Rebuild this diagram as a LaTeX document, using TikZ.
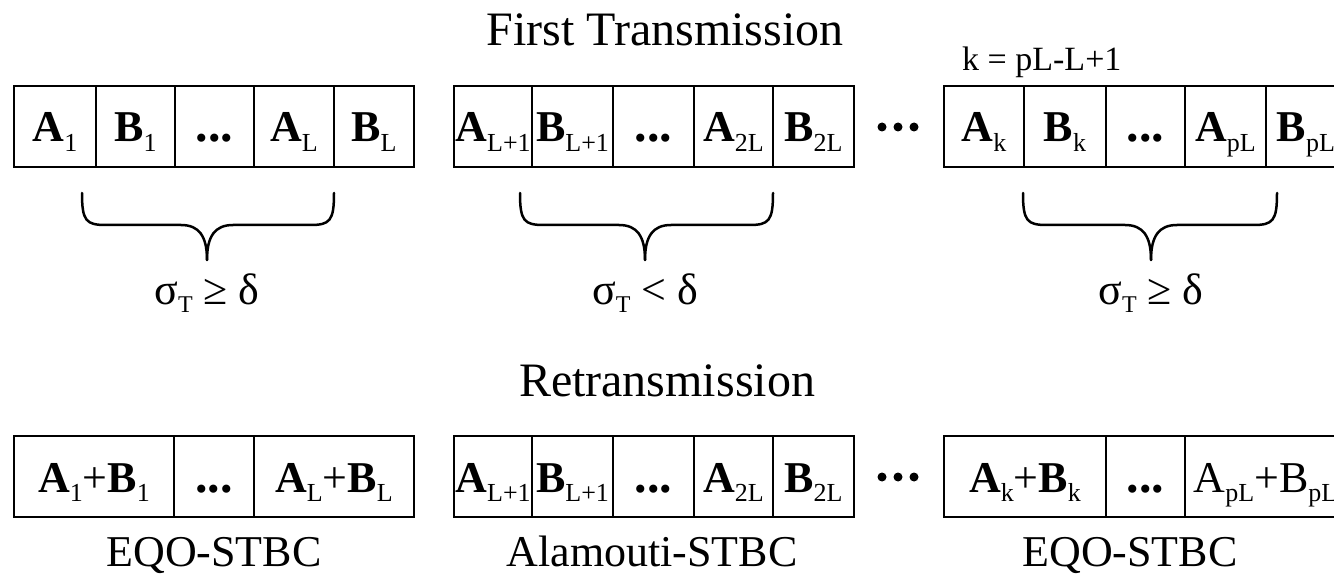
\documentclass[tikz,border=0pt]{standalone}
\usepackage{fontspec}
\setmainfont{Liberation Serif}
\newcommand\Sy[2]{\textbf{#1}\raisebox{-0.22em}{\fontsize{26}{26}\selectfont #2}}
\newcommand\Sr[2]{#1\raisebox{-0.22em}{\fontsize{26}{26}\selectfont #2}}
\newcommand\Sg{σ\raisebox{-0.18em}{\fontsize{24}{24}\selectfont T}}
\newcommand\Dd{{\fontsize{50}{50}\selectfont\textbf{...}}}
\newcommand\Cell[6]{\node[cellbox, minimum width={#3-#2}, minimum height={#5-#4}] (#1) at ({(#2+#3)/2},{(#4+#5)/2}) {#6};}
\newcommand\Brace[4]{%
  \draw[braceline] (#2,193) .. controls (#2,221) and (#2+4,225) .. (#2+24,225) -- (#3-26,225) .. controls (#3-8,225) and (#3,236) .. (#3,260);
  \draw[braceline] (#4,193) .. controls (#4,221) and (#4-4,225) .. (#4-24,225) -- (#3+26,225) .. controls (#3+8,225) and (#3,236) .. (#3,260);
  \coordinate (#1) at (#3,260);}
\begin{document}
\begin{tikzpicture}[x=1pt,y=-1pt,
  cellbox/.style={draw, line width=2.5pt, inner sep=0pt, text height=31pt, text depth=0pt,
    font=\fontsize{44}{44}\selectfont},
  braceline/.style={line width=2.5pt, line cap=round},
  txt/.style={inner sep=0pt, anchor=base, font=\fontsize{44}{44}\selectfont},
  title/.style={inner sep=0pt, anchor=base, font=\fontsize{48}{48}\selectfont},
  dot/.style={circle, fill, inner sep=0pt, minimum size=9pt}]
\useasboundingbox (0,0) rectangle (1334,580);
\fill[white] (0,0) rectangle (1334,580);

\node[title] (t1) at (665,46) {First Transmission};
\node[title] (t2) at (667,396) {Retransmission};
\node[inner sep=0pt, anchor=base west, font=\fontsize{34}{34}\selectfont] (klab) at (962,71) {k = pL-L+1};

% first transmission row
\Cell{a1}{14}{96}{86}{167}{\Sy{A}{1}}
\Cell{b1}{96}{175}{86}{167}{\Sy{B}{1}}
\Cell{d1}{175}{254}{86}{167}{\Dd}
\Cell{aL}{254}{334}{86}{167}{\Sy{A}{L}}
\Cell{bL}{334}{414}{86}{167}{\Sy{B}{L}}

\Cell{aL1}{454}{532}{86}{167}{\Sy{A}{L+1}}
\Cell{bL1}{532}{613}{86}{167}{\Sy{B}{L+1}}
\Cell{d2}{613}{694}{86}{167}{\Dd}
\Cell{a2L}{694}{773}{86}{167}{\Sy{A}{2L}}
\Cell{b2L}{773}{854}{86}{167}{\Sy{B}{2L}}

\Cell{ak}{944}{1024}{86}{167}{\Sy{A}{k}}
\Cell{bk}{1024}{1106}{86}{167}{\Sy{B}{k}}
\Cell{d3}{1106}{1185}{86}{167}{\Dd}
\Cell{apL}{1185}{1266}{86}{167}{\Sy{A}{pL}}
\Cell{bpL}{1266}{1346}{86}{167}{\Sy{B}{pL}}

\node[dot] (g1) at (882,127) {};
\node[dot] (g2) at (898,127) {};
\node[dot] (g3) at (914,127) {};

% braces and conditions
\Brace{br1}{82}{207}{334}
\Brace{br2}{520}{645}{773}
\Brace{br3}{1023}{1151}{1277}
\node[txt] (c1) at (207,305) {\Sg\ ≥ δ};
\node[txt] (c2) at (645,305) {\Sg\ < δ};
\node[txt] (c3) at (1151,305) {\Sg\ ≥ δ};

% retransmission row
\Cell{r1}{14}{174}{436}{517}{\Sy{A}{1}+\Sy{B}{1}}
\Cell{r2}{174}{254}{436}{517}{\Dd}
\Cell{r3}{254}{414}{436}{517}{\Sy{A}{L}+\Sy{B}{L}}

\Cell{s1}{454}{532}{436}{517}{\Sy{A}{L+1}}
\Cell{s2}{532}{613}{436}{517}{\Sy{B}{L+1}}
\Cell{s3}{613}{694}{436}{517}{\Dd}
\Cell{s4}{694}{773}{436}{517}{\Sy{A}{2L}}
\Cell{s5}{773}{854}{436}{517}{\Sy{B}{2L}}

\Cell{u1}{944}{1106}{436}{517}{\Sy{A}{k}+\Sy{B}{k}}
\Cell{u2}{1106}{1185}{436}{517}{\Dd}
\Cell{u3}{1185}{1346}{436}{517}{\Sr{A}{pL}+\Sr{B}{pL}}

\node[dot] (h1) at (882,477) {};
\node[dot] (h2) at (898,477) {};
\node[dot] (h3) at (914,477) {};

\node[txt] (e1) at (214,566) {EQO-STBC};
\node[txt] (e2) at (652,566) {Alamouti-STBC};
\node[txt] (e3) at (1130,566) {EQO-STBC};
\end{tikzpicture}
\end{document}
